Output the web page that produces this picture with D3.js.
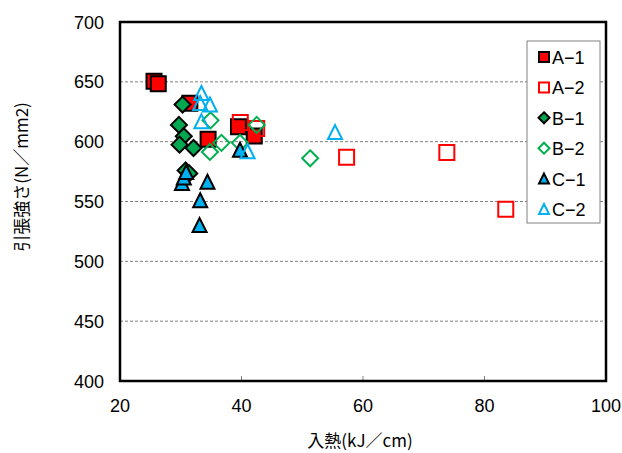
<!DOCTYPE html>
<html>
<head>
<meta charset="utf-8">
<script src="https://cdn.jsdelivr.net/npm/d3@7"></script>
<style>
	body { margin: 0; background: #fff; }
	text { font-family: 'Liberation Sans', Arial, sans-serif; }
	.jp { font-family: 'Noto Sans CJK JP', sans-serif; }
</style>
</head>
<body>
<div id="chart"></div>
<script>
// series values (入熱 kJ/cm, 引張強さ N/mm2)
const seriesNames = ['A\u22121', 'A\u22122', 'B\u22121', 'B\u22122', 'C\u22121', 'C\u22122'];
const a1Heat = [25.6, 26.3, 31.5, 34.5, 39.5, 42.1];
const a1Strength = [650.5, 648.5, 632, 602, 612.5, 604.7];
const a2Heat = [39.8, 42.5, 57.3, 73.8, 83.5];
const a2Strength = [616, 611, 587, 591, 543.6];
const b1Heat = [30.3, 29.7, 30.5, 29.8, 32.1, 30.8, 31.4];
const b1Strength = [631, 614, 604.5, 597.5, 594.7, 576, 573.5];
const b2Heat = [34.9, 36.7, 34.8, 39.75, 42.5, 51.3];
const b2Strength = [617.8, 599, 591.4, 599, 614, 586.1];
const c1Heat = [39.75, 30.2, 30.5, 30.9, 34.4, 33.2, 33.1];
const c1Strength = [593.3, 565.4, 570, 574.6, 566.5, 551, 530.3];
const c2Heat = [33.4, 33.2, 34.8, 33.4, 41.0, 55.4];
const c2Strength = [640.7, 632.3, 631, 617, 592, 608];

const xTicks = [20, 40, 60, 80, 100];
const yTicks = [400, 450, 500, 550, 600, 650, 700];

const series = [
	{ name: seriesNames[0], xs: a1Heat, ys: a1Strength, shape: 'square', fill: '#ff0000', stroke: '#000' },
	{ name: seriesNames[1], xs: a2Heat, ys: a2Strength, shape: 'square', fill: 'none', stroke: '#ff0000' },
	{ name: seriesNames[2], xs: b1Heat, ys: b1Strength, shape: 'diamond', fill: '#00a650', stroke: '#000' },
	{ name: seriesNames[3], xs: b2Heat, ys: b2Strength, shape: 'diamond', fill: 'none', stroke: '#00b050' },
	{ name: seriesNames[4], xs: c1Heat, ys: c1Strength, shape: 'triangle', fill: '#00b0f0', stroke: '#000' },
	{ name: seriesNames[5], xs: c2Heat, ys: c2Strength, shape: 'triangle', fill: 'none', stroke: '#00b0f0' },
];

const width = 622, height = 453;
const margin = { left: 120, right: 16, top: 22, bottom: 72 };

const svg = d3.select('#chart').append('svg')
	.attr('width', width)
	.attr('height', height);

const x = d3.scaleLinear().domain([20, 100]).range([margin.left, width - margin.right]);
const y = d3.scaleLinear().domain([400, 700]).range([height - margin.bottom, margin.top]);

// marker outline, s = overall size in px
function markerPath(shape, s) {
	const h = s / 2;
	if (shape === 'square') return `M${-h},${-h}H${h}V${h}H${-h}Z`;
	if (shape === 'diamond') return `M0,${-h}L${h},0L0,${h}L${-h},0Z`;
	return `M0,${-h}L${h},${h}L${-h},${h}Z`;
}
const markerSize = { square: 15, diamond: 16, triangle: 14 };

// dashed gridlines
svg.append('g')
	.selectAll('line')
	.data(yTicks.filter((t) => t > 400 && t < 700))
	.enter()
	.append('line')
	.attr('x1', x(20))
	.attr('x2', x(100))
	.attr('y1', (d) => y(d))
	.attr('y2', (d) => y(d))
	.attr('stroke', '#808080')
	.attr('stroke-width', 1)
	.attr('stroke-dasharray', '3,2');

// small inward ticks on the bottom axis
svg.append('g')
	.selectAll('line')
	.data(xTicks.filter((t) => t > 20 && t < 100))
	.enter()
	.append('line')
	.attr('x1', (d) => x(d))
	.attr('x2', (d) => x(d))
	.attr('y1', y(400))
	.attr('y2', y(400) - 5)
	.attr('stroke', '#808080');

// tick labels
svg.append('g')
	.selectAll('text')
	.data(xTicks)
	.enter()
	.append('text')
	.attr('x', (d) => x(d))
	.attr('y', 412)
	.attr('text-anchor', 'middle')
	.style('font-size', '18px')
	.text((d) => d);

svg.append('g')
	.selectAll('text')
	.data(yTicks)
	.enter()
	.append('text')
	.attr('x', 104)
	.attr('y', (d) => y(d) + 6.5)
	.attr('text-anchor', 'end')
	.style('font-size', '18px')
	.text((d) => d);

// data markers
series.forEach((s) => {
	svg.append('g')
		.selectAll('path')
		.data(s.xs.map((v, i) => [v, s.ys[i]]))
		.enter()
		.append('path')
		.attr('transform', (d) => `translate(${x(d[0])},${y(d[1])})`)
		.attr('d', markerPath(s.shape, markerSize[s.shape]))
		.attr('fill', s.fill)
		.attr('stroke', s.stroke)
		.attr('stroke-width', 2)
		.attr('stroke-linejoin', 'miter');
});

// plot frame
svg.append('rect')
	.attr('x', x(20))
	.attr('y', y(700))
	.attr('width', x(100) - x(20))
	.attr('height', y(400) - y(700))
	.attr('fill', 'none')
	.attr('stroke', '#000')
	.attr('stroke-width', 2.5);

// legend
const legend = svg.append('g').attr('transform', 'translate(527,41)');
legend.append('rect')
	.attr('width', 73)
	.attr('height', 182)
	.attr('fill', '#fff')
	.attr('stroke', '#808080')
	.attr('stroke-width', 1);

const items = legend.selectAll('g.item')
	.data(series)
	.enter()
	.append('g')
	.attr('class', 'item')
	.attr('transform', (d, i) => `translate(0,${16 + i * 30.4})`);

items.append('path')
	.attr('transform', 'translate(17,0)')
	.attr('d', (d) => markerPath(d.shape, d.shape === 'diamond' ? 11 : 10))
	.attr('fill', (d) => d.fill)
	.attr('stroke', (d) => d.stroke)
	.attr('stroke-width', 2);

items.append('text')
	.attr('x', 25)
	.attr('y', 7)
	.style('font-size', '18px')
	.text((d) => d.name);

// axis titles
svg.append('text')
	.attr('class', 'jp')
	.attr('x', 360)
	.attr('y', 447)
	.attr('text-anchor', 'middle')
	.style('font-size', '17px')
	.text('入熱(kJ／cm)');

svg.append('text')
	.attr('class', 'jp')
	.attr('transform', 'translate(28,177) rotate(-90)')
	.attr('text-anchor', 'middle')
	.style('font-size', '17px')
	.text('引張強さ(N／mm2)');
</script>
</body>
</html>
